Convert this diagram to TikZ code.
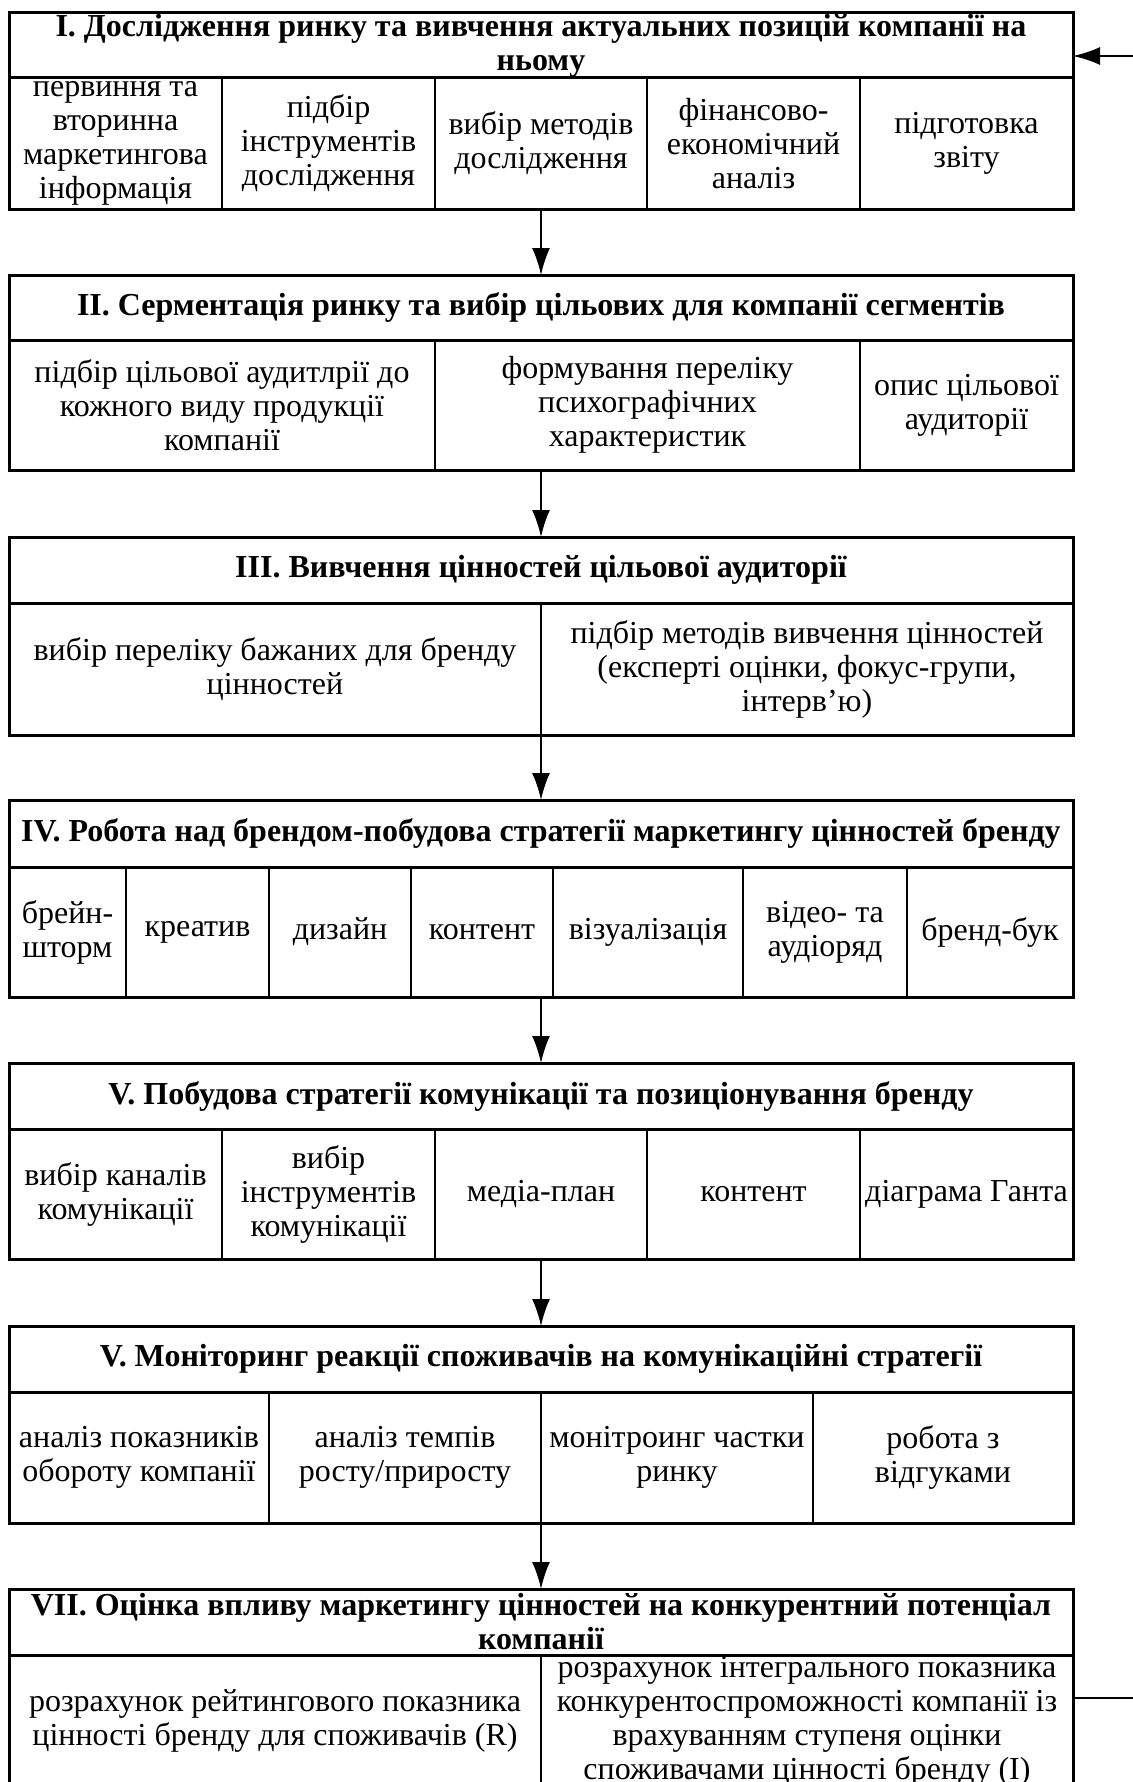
\documentclass[tikz,border=0pt]{standalone}
\usepackage{fontspec}
\setmainfont{Liberation Serif}
\usetikzlibrary{arrows.meta,positioning}
\tikzset{
  fc diagram/.style={x=0.5pt, y=-0.5pt, font=\fontsize{16}{17}\selectfont,
    line join=miter},
  fc head/.style={draw, line width=0.9pt, inner xsep=0pt, inner ysep=-3pt,
    outer sep=0pt, align=center, minimum width=532pt, minimum height=33pt,
    font=\fontsize{16}{17}\selectfont\bfseries},
  fc cell/.style={draw, line width=0.9pt, inner xsep=0pt, inner ysep=-3pt,
    outer sep=0pt, align=center},
  fc frame/.style={line width=1.5pt},
  fc arrow/.style={-{Latex[length=13.5pt,width=9pt]}, line width=1pt}
}

\begin{document}
\begin{tikzpicture}[fc diagram]
\useasboundingbox (0,0) rectangle (1133,1782);
% I
\node[fc head, minimum height=32.5pt] (h1) at (541,45.5)
  {I. Дослідження ринку та вивчення актуальних позицій компанії на\\ньому};
\foreach \lft/\rgt/\txt [count=\i] in {9/222/{первиння та\\вторинна\\маркетингова\\інформація},
    222/435/{підбір\\інструментів\\дослідження},435/647/{вибір методів\\дослідження},
    647/860/{фінансово-\\економічний\\аналіз},860/1073/{підготовка\\звіту}}
  \node[fc cell, minimum width={(\rgt-\lft)*0.5pt}, minimum height=65.5pt]
    (c1-\i) at ({(\lft+\rgt)/2},143.5) {\txt};
\draw[fc frame] (h1.north west) rectangle (c1-5.south east) (h1.south west) -- (h1.south east);
% II
\node[fc head, minimum height=32.5pt] (h2) at (541,307.5)
  {II. Серментація ринку та вибір цільових для компанії сегментів};
\foreach \lft/\rgt/\txt [count=\i] in {9/435/{підбір цільової аудитлрії до\\кожного виду продукції\\компанії},
    435/860/{формування переліку\\психографічних\\характеристик},860/1073/{опис цільової\\аудиторії}}
  \node[fc cell, minimum width={(\rgt-\lft)*0.5pt}, minimum height=65pt]
    (c2-\i) at ({(\lft+\rgt)/2},405) {\txt};
\draw[fc frame] (h2.north west) rectangle (c2-3.south east) (h2.south west) -- (h2.south east);
% III
\node[fc head] (h3) at (541,570) {III. Вивчення цінностей цільової аудиторії};
\foreach \lft/\rgt/\txt [count=\i] in {9/541/{вибір переліку бажаних для бренду\\цінностей},
    541/1073/{підбір методів вивчення цінностей\\(експерті оцінки, фокус-групи,\\інтерв'ю)}}
  \node[fc cell, minimum width={(\rgt-\lft)*0.5pt}, minimum height=66pt]
    (c3-\i) at ({(\lft+\rgt)/2},669) {\txt};
\draw[fc frame] (h3.north west) rectangle (c3-2.south east) (h3.south west) -- (h3.south east);
% IV
\node[fc head, minimum height=33.5pt] (h4) at (541,833.5)
  {IV. Робота над брендом-побудова стратегії маркетингу цінностей бренду};
\foreach \lft/\rgt/\txt [count=\i] in {9/126/{брейн-\\шторм},126/269/креатив,269/411/дизайн,
    411/553/контент,553/743/візуалізація,743/907/{відео- та\\аудіоряд},907/1073/бренд-бук}
  \node[fc cell, minimum width={(\rgt-\lft)*0.5pt}, minimum height=65pt]
    (c4-\i) at ({(\lft+\rgt)/2},932) {\txt};
\draw[fc frame] (h4.north west) rectangle (c4-7.south east) (h4.south west) -- (h4.south east);
% V
\node[fc head] (h5) at (541,1096)
  {V. Побудова стратегії комунікації та позиціонування бренду};
\foreach \lft/\rgt/\txt [count=\i] in {9/222/{вибір каналів\\комунікації},
    222/435/{вибір\\інструментів\\комунікації},435/647/медіа-план,
    647/860/контент,860/1073/діаграма Ганта}
  \node[fc cell, minimum width={(\rgt-\lft)*0.5pt}, minimum height=65pt]
    (c5-\i) at ({(\lft+\rgt)/2},1194) {\txt};
\draw[fc frame] (h5.north west) rectangle (c5-5.south east) (h5.south west) -- (h5.south east);
% VI
\node[fc head] (h6) at (541,1359)
  {V. Моніторинг реакції споживачів на комунікаційні стратегії};
\foreach \lft/\rgt/\txt [count=\i] in {9/269/{аналіз показників\\обороту компанії},
    269/541/{аналіз темпів\\росту/приросту},541/813/{монітроинг частки\\ринку},
    813/1073/{робота з\\відгуками}}
  \node[fc cell, minimum width={(\rgt-\lft)*0.5pt}, minimum height=65.5pt]
    (c6-\i) at ({(\lft+\rgt)/2},1457.5) {\txt};
\draw[fc frame] (h6.north west) rectangle (c6-4.south east) (h6.south west) -- (h6.south east);
% VII
\node[fc head] (h7) at (541,1622)
  {VII. Оцінка впливу маркетингу цінностей на конкурентний потенціал\\компанії};
\foreach \lft/\rgt/\txt [count=\i] in {9/541/{розрахунок рейтингового показника\\цінності бренду для споживачів (R)},
    541/1073/{розрахунок інтегрального показника\\конкурентоспроможності компанії із\\врахуванням ступеня оцінки\\споживачами цінності бренду (I)}}
  \node[fc cell, minimum width={(\rgt-\lft)*0.5pt}, minimum height=66pt]
    (c7-\i) at ({(\lft+\rgt)/2},1721) {\txt};
\draw[fc frame] (h7.north west) rectangle (c7-2.south east) (h7.south west) -- (h7.south east);
% arrows
\draw[fc arrow] (h2.north |- c1-1.south) -- (h2.north);
\draw[fc arrow] (h3.north |- c2-1.south) -- (h3.north);
\draw[fc arrow] (h4.north |- c3-1.south) -- (h4.north);
\draw[fc arrow] (h5.north |- c4-1.south) -- (h5.north);
\draw[fc arrow] (h6.north |- c5-1.south) -- (h6.north);
\draw[fc arrow] (h7.north |- c6-1.south) -- (h7.north);
\coordinate (fb1) at (1150,1698);
\coordinate (fb2) at (1150,56);
\draw[fc arrow] (c7-2.east |- fb1) -- (fb1) -- (fb2) -- (h1.east |- fb2);
\end{tikzpicture}
\end{document}
